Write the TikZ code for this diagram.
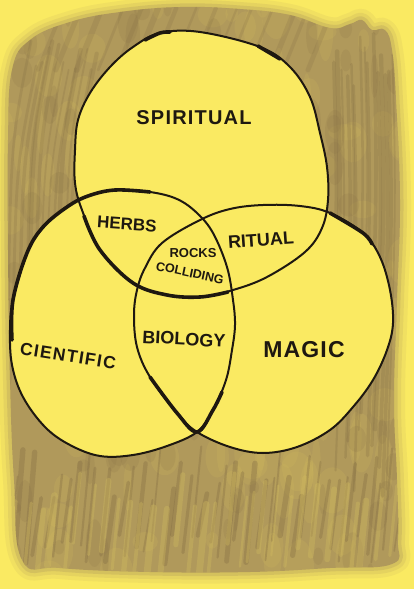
\documentclass[tikz,border=0pt]{standalone}
\usepackage{fontspec}
\setmainfont{Liberation Sans}
\definecolor{paper}{RGB}{250,234,98}
\definecolor{chalk}{RGB}{176,153,91}
\definecolor{chalkdark}{RGB}{128,106,66}
\definecolor{chalklight}{RGB}{210,188,96}
\definecolor{ink}{RGB}{30,24,16}
\begin{document}
\begin{tikzpicture}[x=1pt,y=-1pt,
  lbl/.style={font=\bfseries, text=ink, inner sep=0pt},
  rim/.style={draw=ink, line width=2pt, line join=round},
  thick rim/.style={draw=ink, line width=3.6pt, line cap=round, line join=round}]
\useasboundingbox (0,0) rectangle (414,589);
\fill[paper] (0,0) rectangle (414,589);
% charcoal background, soft edges
\foreach \lw/\op in {22/.12, 14/.18, 7/.3}{
\path[draw=chalk, draw opacity=\op, line width=\lw pt, line join=round]
  plot[smooth cycle, tension=0.7] coordinates {(12,70) (30,40) (70,22) (120,12) (180,7) (240,9) (290,15) (330,28) (350,24) (362,20) (372,30) (385,30) (392,50) (396,100) (400,200) (397,300) (394,400) (397,480) (398,540) (392,564) (330,568) (250,572) (150,572) (60,568) (22,560) (14,480) (10,380) (8,250) (8,140)};
}
\path[fill=chalk]
  plot[smooth cycle, tension=0.7] coordinates {(12,70) (30,40) (70,22) (120,12) (180,7) (240,9) (290,15) (330,28) (350,24) (362,20) (372,30) (385,30) (392,50) (396,100) (400,200) (397,300) (394,400) (397,480) (398,540) (392,564) (330,568) (250,572) (150,572) (60,568) (22,560) (14,480) (10,380) (8,250) (8,140)};
\begin{scope}
\clip plot[smooth cycle, tension=0.7] coordinates {(12,70) (30,40) (70,22) (120,12) (180,7) (240,9) (290,15) (330,28) (350,24) (362,20) (372,30) (385,30) (392,50) (396,100) (400,200) (397,300) (394,400) (397,480) (398,540) (392,564) (330,568) (250,572) (150,572) (60,568) (22,560) (14,480) (10,380) (8,250) (8,140)};
\pgfmathsetseed{11}
% mottling
\foreach \i in {1,...,160}{
  \pgfmathsetmacro\xx{rnd*414}
  \pgfmathsetmacro\yy{rnd*589}
  \pgfmathsetmacro\ra{4+rnd*14}
  \pgfmathsetmacro\rb{8+rnd*25}
  \fill[chalklight, opacity=.18] (\xx,\yy) ellipse [x radius=\ra pt, y radius=\rb pt];
}
\foreach \i in {1,...,120}{
  \pgfmathsetmacro\xx{rnd*414}
  \pgfmathsetmacro\yy{rnd*589}
  \pgfmathsetmacro\ra{3+rnd*8}
  \pgfmathsetmacro\rb{6+rnd*18}
  \fill[chalkdark, opacity=.14] (\xx,\yy) ellipse [x radius=\ra pt, y radius=\rb pt];
}
\foreach \i in {0,...,42}{
  \pgfmathsetmacro\xx{12+\i*9.2+rnd*6}
  \pgfmathsetmacro\ya{440+rnd*60}
  \pgfmathsetmacro\yb{535+rnd*30}
  \pgfmathsetmacro\w{1.5+rnd*4}
  \draw[chalkdark, opacity=.33, line width=\w pt, line cap=round] (\xx,\ya) -- (\xx-9,\yb);
}
\foreach \i in {0,...,30}{
  \pgfmathsetmacro\xx{15+\i*12.5+rnd*8}
  \pgfmathsetmacro\ya{470+rnd*40}
  \pgfmathsetmacro\w{2+rnd*5}
  \draw[chalklight, opacity=.35, line width=\w pt, line cap=round] (\xx,\ya) -- (\xx-7,\ya+70);
}
\foreach \i in {0,...,14}{
  \pgfmathsetmacro\xx{332+\i*4.3+rnd*3}
  \pgfmathsetmacro\ya{30+rnd*60}
  \pgfmathsetmacro\yb{400+rnd*100}
  \pgfmathsetmacro\w{1.5+rnd*3}
  \draw[chalkdark, opacity=.25, line width=\w pt, line cap=round] (\xx,\ya) .. controls (\xx+4,\ya+150) .. (\xx-6,\yb);
}
\foreach \i in {0,...,12}{
  \pgfmathsetmacro\xx{10+\i*5.5+rnd*3}
  \pgfmathsetmacro\ya{40+rnd*30}
  \pgfmathsetmacro\yb{300+rnd*60}
  \pgfmathsetmacro\w{1.5+rnd*3}
  \draw[chalkdark, opacity=.22, line width=\w pt, line cap=round] (\xx+20,\ya) .. controls (\xx,\ya+100) .. (\xx-3,\yb);
}
\foreach \i in {0,...,14}{
  \pgfmathsetmacro\xx{60+\i*19+rnd*8}
  \pgfmathsetmacro\w{2+rnd*4}
  \draw[chalkdark, opacity=.2, line width=\w pt, line cap=round] (\xx,8) -- (\xx-25,70);
}
\end{scope}
% yellow insides of the three circles
\fill[paper] plot[smooth cycle, tension=0.6] coordinates {(160,33) (200,32) (260,47) (290,67) (310,97) (320,133) (327,167) (328,200) (322,228) (305,252) (267,277) (233,290) (200,297) (167,295) (133,283) (100,250) (82,210) (75,183) (75,150) (78,120) (90,93) (110,67) (133,47)};
\fill[paper] plot[smooth cycle, tension=0.6] coordinates {(115,190) (150,192) (177,199) (197,213) (213,233) (227,267) (233,300) (235,325) (232,350) (226,380) (213,410) (197,432) (167,446) (133,455) (100,456) (70,445) (45,427) (23,397) (12,365) (10,330) (13,300) (27,253) (43,227) (67,207) (88,196)};
\fill[paper] plot[smooth cycle, tension=0.6] coordinates {(263,205) (300,206) (330,213) (363,233) (380,257) (390,290) (393,323) (387,350) (373,380) (353,407) (330,430) (297,447) (263,453) (230,447) (197,432) (177,413) (150,377) (137,347) (134,315) (137,290) (145,268) (162,243) (200,220) (230,209)};
% outlines
\path[rim] plot[smooth cycle, tension=0.6] coordinates {(160,33) (200,32) (260,47) (290,67) (310,97) (320,133) (327,167) (328,200) (322,228) (305,252) (267,277) (233,290) (200,297) (167,295) (133,283) (100,250) (82,210) (75,183) (75,150) (78,120) (90,93) (110,67) (133,47)};
\path[rim] plot[smooth cycle, tension=0.6] coordinates {(115,190) (150,192) (177,199) (197,213) (213,233) (227,267) (233,300) (235,325) (232,350) (226,380) (213,410) (197,432) (167,446) (133,455) (100,456) (70,445) (45,427) (23,397) (12,365) (10,330) (13,300) (27,253) (43,227) (67,207) (88,196)};
\path[rim] plot[smooth cycle, tension=0.6] coordinates {(263,205) (300,206) (330,213) (363,233) (380,257) (390,290) (393,323) (387,350) (373,380) (353,407) (330,430) (297,447) (263,453) (230,447) (197,432) (177,413) (150,377) (137,347) (134,315) (137,290) (145,268) (162,243) (200,220) (230,209)};
% heavier strokes
\path[thick rim] plot[smooth, tension=0.6] coordinates {(84,216) (100,250) (133,283) (167,295) (200,297) (228,292)};
\path[thick rim] plot[smooth, tension=0.6] coordinates {(12,340) (13,300) (27,253) (43,227) (67,207) (88,196) (115,190) (150,192)};
\path[thick rim] plot[smooth, tension=0.6] coordinates {(150,377) (177,413) (197,432) (213,410) (222,392)};
\path[thick rim] plot[smooth, tension=0.6] coordinates {(330,213) (363,233) (372,244)};
\path[thick rim] plot[smooth, tension=0.6] coordinates {(145,40) (160,33) (170,32)};
\path[thick rim] plot[smooth, tension=0.6] coordinates {(258,46) (280,59)};
% labels
\node[lbl, font=\bfseries\fontsize{20}{20}\selectfont\addfontfeatures{LetterSpace=6}] (spiritual) at (194,118) {SPIRITUAL};
\node[lbl, font=\bfseries\fontsize{17}{17}\selectfont, rotate=-4] (herbs) at (127,224) {HERBS};
\node[lbl, font=\bfseries\fontsize{18}{18}\selectfont, rotate=4] (ritual) at (261,240) {RITUAL};
\node[lbl, font=\bfseries\fontsize{13}{13}\selectfont] (rocks) at (193,253) {ROCKS};
\node[lbl, font=\bfseries\fontsize{12.5}{12.5}\selectfont, rotate=-12] (colliding) at (190,273) {COLLIDING};
\node[lbl, font=\bfseries\fontsize{18}{18}\selectfont, rotate=-3] (biology) at (184,339) {BIOLOGY};
\node[lbl, font=\bfseries\fontsize{17.5}{17.5}\selectfont\addfontfeatures{LetterSpace=8}, rotate=-9] (cientific) at (68,356) {CIENTIFIC};
\node[lbl, font=\bfseries\fontsize{23}{23}\selectfont\addfontfeatures{LetterSpace=5}] (magic) at (304,350) {MAGIC};
\end{tikzpicture}
\end{document}
